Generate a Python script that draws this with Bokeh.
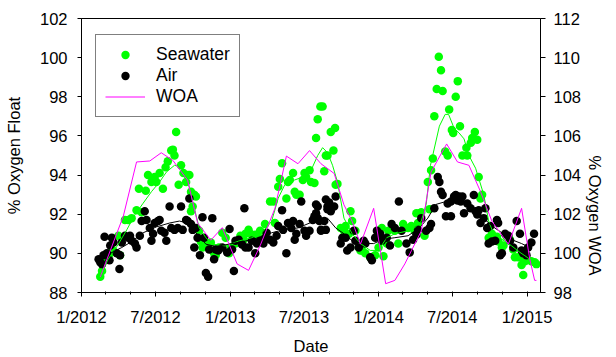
import math
from datetime import datetime
from bokeh.plotting import figure
from bokeh.models import (Range1d, LinearAxis, DatetimeAxis, FixedTicker, ColumnDataSource, Legend,
                          Arrow)
from bokeh.embed import file_html
from bokeh.resources import INLINE

FONT = "Liberation Sans"

# ---------------- data (decimal year, percent) ----------------
sw_year = [2012.126, 2012.138, 2012.171, 2012.193, 2012.213, 2012.248, 2012.259, 2012.292, 2012.314, 2012.337,
           2012.370, 2012.386, 2012.404, 2012.432, 2012.447, 2012.470, 2012.492, 2012.503, 2012.525, 2012.547,
           2012.565, 2012.580, 2012.603, 2012.614, 2012.625, 2012.636, 2012.653, 2012.669, 2012.685, 2012.703,
           2012.713, 2012.725, 2012.736, 2012.747, 2012.758, 2012.769, 2012.736, 2012.791, 2012.802, 2012.813,
           2012.846, 2012.869, 2012.891, 2012.902, 2012.924, 2012.946, 2012.969, 2012.991, 2013.002, 2013.035,
           2013.068, 2013.090, 2013.102, 2013.123, 2013.135, 2013.168, 2013.190, 2013.201, 2013.234, 2013.268,
           2013.290, 2013.301, 2013.323, 2013.334, 2013.349, 2013.378, 2013.389, 2013.401, 2013.423, 2013.434,
           2013.445, 2013.467, 2013.489, 2013.500, 2013.511, 2013.534, 2013.544, 2013.567, 2013.578, 2013.589,
           2013.607, 2013.622, 2013.633, 2013.644, 2013.655, 2013.677, 2013.695, 2013.706, 2013.710, 2013.722,
           2013.744, 2013.766, 2013.777, 2013.800, 2013.810, 2013.821, 2013.843, 2013.866, 2013.877, 2013.888,
           2013.910, 2013.943, 2013.976, 2013.999, 2014.021, 2014.032, 2014.054, 2014.065, 2014.109, 2014.132,
           2014.165, 2014.198, 2014.220, 2014.242, 2014.254, 2014.265, 2014.275, 2014.287, 2014.309, 2014.331,
           2014.342, 2014.353, 2014.365, 2014.375, 2014.391, 2014.405, 2014.420, 2014.431, 2014.448, 2014.465,
           2014.475, 2014.493, 2014.502, 2014.519, 2014.533, 2014.548, 2014.564, 2014.591, 2014.597, 2014.621,
           2014.630, 2014.648, 2014.664, 2014.674, 2014.686, 2014.697, 2014.741, 2014.763, 2014.797, 2014.807,
           2014.830, 2014.841, 2014.862, 2014.885, 2014.907, 2014.918, 2014.940, 2014.952, 2014.963, 2014.974,
           2014.985, 2015.029, 2015.051, 2015.063]
sw_pct = [88.8, 89.1, 89.7, 90.0, 90.15, 90.9, 89.9, 91.7, 91.7, 91.8,
          92.2, 93.3, 92.1, 93.2, 94.0, 93.65, 93.9, 93.65, 94.1, 93.3,
          94.4, 94.7, 95.25, 95.3, 95.0, 96.2, 93.5, 94.5, 94.1, 93.65,
          94.0, 94.0, 93.15, 92.4, 93.0, 92.9, 92.15, 91.15, 90.6, 90.3,
          90.5, 90.55, 90.0, 89.9, 90.3, 91.05, 90.8, 90.0, 90.3, 90.5,
          90.9, 90.7, 91.0, 91.2, 91.0, 90.95, 90.8, 91.15, 91.5, 92.65,
          92.65, 91.55, 93.4, 93.8, 94.6, 92.8, 93.65, 93.75, 94.1, 93.15,
          93.0, 93.0, 93.75, 94.1, 93.9, 94.25, 93.65, 93.6, 95.9, 96.85,
          97.5, 97.5, 94.2, 95.0, 95.0, 96.2, 95.25, 96.4, 93.5, 93.55,
          91.3, 91.15, 91.4, 91.0, 92.15, 91.65, 91.15, 90.3, 90.15, 90.15,
          90.0, 89.8, 89.9, 90.3, 91.3, 89.85, 90.5, 91.15, 91.15, 90.5,
          91.5, 91.3, 91.4, 91.15, 92.05, 91.55, 92.05, 92.1, 90.9, 93.65,
          92.25, 94.25, 94.85, 97.0, 98.4, 100.05, 99.35, 98.3, 95.2, 95.0,
          97.35, 96.3, 96.15, 98.0, 98.8, 96.5, 95.0, 95.4, 95.0, 95.65,
          95.9, 96.2, 95.8, 93.9, 92.8, 93.0, 90.8, 91.0, 90.85, 90.6,
          90.3, 90.4, 90.85, 90.7, 90.2, 89.8, 89.8, 89.8, 89.4, 88.9,
          89.6, 89.6, 89.55, 89.45]

air_year = [2012.115, 2012.126, 2012.138, 2012.148, 2012.155, 2012.171, 2012.188, 2012.193, 2012.204, 2012.215,
            2012.237, 2012.255, 2012.259, 2012.271, 2012.292, 2012.314, 2012.326, 2012.337, 2012.359, 2012.370,
            2012.392, 2012.404, 2012.425, 2012.437, 2012.459, 2012.470, 2012.481, 2012.492, 2012.514, 2012.525,
            2012.536, 2012.558, 2012.570, 2012.592, 2012.603, 2012.625, 2012.647, 2012.669, 2012.680, 2012.703,
            2012.713, 2012.725, 2012.736, 2012.747, 2012.758, 2012.769, 2012.780, 2012.796, 2012.813, 2012.824,
            2012.836, 2012.851, 2012.858, 2012.879, 2012.891, 2012.902, 2012.919, 2012.946, 2012.979, 2012.995,
            2013.012, 2013.024, 2013.035, 2013.057, 2013.079, 2013.095, 2013.102, 2013.123, 2013.145, 2013.168,
            2013.179, 2013.201, 2013.223, 2013.234, 2013.245, 2013.268, 2013.290, 2013.312, 2013.323, 2013.349,
            2013.356, 2013.378, 2013.389, 2013.411, 2013.423, 2013.434, 2013.445, 2013.467, 2013.478, 2013.500,
            2013.511, 2013.534, 2013.556, 2013.578, 2013.589, 2013.611, 2013.633, 2013.644, 2013.655, 2013.677,
            2013.700, 2013.567, 2013.578, 2013.589, 2013.600, 2013.644, 2013.666, 2013.655, 2013.710, 2013.611,
            2013.744, 2013.755, 2013.777, 2013.788, 2013.810, 2013.832, 2013.843, 2013.866, 2013.899, 2013.910,
            2013.943, 2013.954, 2013.976, 2013.988, 2014.010, 2014.021, 2014.054, 2014.076, 2014.087, 2014.109,
            2014.136, 2014.154, 2014.187, 2014.209, 2014.232, 2014.254, 2014.265, 2014.287, 2014.320, 2014.342,
            2014.353, 2014.375, 2014.398, 2014.409, 2014.420, 2014.431, 2014.453, 2014.465, 2014.487, 2014.487,
            2014.508, 2014.519, 2014.531, 2014.542, 2014.553, 2014.564, 2014.575, 2014.597, 2014.619, 2014.641,
            2014.653, 2014.664, 2014.674, 2014.686, 2014.708, 2014.719, 2014.731, 2014.752, 2014.741, 2014.763,
            2014.785, 2014.797, 2014.805, 2014.819, 2014.830, 2014.852, 2014.874, 2014.885, 2014.907, 2014.930,
            2014.952, 2014.963, 2014.974, 2014.996, 2015.007, 2015.029, 2015.047]
air_pct = [89.7, 89.55, 89.45, 89.9, 90.85, 90.0, 89.65, 90.4, 90.8, 90.55,
           90.0, 89.2, 89.9, 90.55, 90.9, 90.8, 90.9, 90.65, 90.5, 90.3,
           90.9, 91.65, 92.15, 91.7, 91.3, 90.65, 91.0, 91.55, 91.65, 91.7,
           91.15, 91.05, 90.65, 92.4, 91.3, 91.2, 91.3, 92.4, 91.2, 91.7,
           91.65, 92.8, 91.5, 91.2, 90.3, 91.3, 90.8, 89.9, 91.85, 90.8,
           89.0, 88.8, 90.2, 91.8, 89.7, 90.2, 90.15, 90.3, 90.05, 91.25,
           90.2, 89.1, 90.65, 90.7, 90.45, 92.3, 90.3, 90.3, 90.65, 90.0,
           90.5, 90.65, 90.5, 90.8, 91.05, 90.7, 90.55, 90.9, 91.4, 92.2,
           91.2, 90.0, 91.55, 91.3, 91.65, 90.7, 91.0, 91.5, 92.65, 91.15,
           90.9, 91.15, 91.7, 92.05, 92.4, 91.2, 91.65, 91.2, 92.4, 92.15,
           92.4, 91.9, 92.5, 91.8, 91.65, 92.75, 92.6, 92.25, 92.9, 91.15,
           90.5, 90.8, 90.8, 90.15, 90.3, 91.15, 90.65, 90.3, 90.65, 90.5,
           89.8, 89.65, 90.8, 91.15, 91.0, 90.65, 90.8, 90.4, 91.5, 91.3,
           92.65, 91.15, 90.5, 90.05, 90.7, 90.95, 91.2, 91.8, 91.15, 91.3,
           91.5, 92.3, 93.9, 93.65, 93.15, 92.98, 91.9, 92.55, 92.65, 91.9,
           92.9, 92.98, 92.7, 92.9, 92.65, 92.9, 92.05, 92.55, 92.3, 92.98,
           92.15, 91.98, 92.2, 91.55, 91.8, 92.3, 91.3, 91.4, 90.5, 90.6,
           90.65, 91.7, 91.55, 89.9, 90.0, 91.0, 90.9, 90.65, 90.3, 91.65,
           91.0, 90.15, 90.0, 89.9, 90.3, 90.55, 91.0]

sw_fit_year = [2012.126, 2012.179, 2012.246, 2012.304, 2012.359, 2012.414, 2012.470, 2012.525, 2012.570, 2012.625,
               2012.669, 2012.713, 2012.747, 2012.791, 2012.836, 2012.879, 2012.969, 2013.057, 2013.145, 2013.212,
               2013.278, 2013.323, 2013.367, 2013.434, 2013.489, 2013.544, 2013.589, 2013.622, 2013.655, 2013.689,
               2013.722, 2013.766, 2013.821, 2013.877, 2013.943, 2013.999, 2014.054, 2014.109, 2014.198, 2014.242,
               2014.287, 2014.320, 2014.349, 2014.409, 2014.448, 2014.471, 2014.508, 2014.542, 2014.575, 2014.608,
               2014.653, 2014.708, 2014.741, 2014.774, 2014.830, 2014.896, 2014.952, 2014.985, 2015.018]
sw_fit_pct = [88.8, 89.7, 90.45, 91.2, 91.97, 92.56, 93.15, 93.65, 94.15, 94.5,
              94.4, 93.75, 92.65, 91.3, 90.8, 90.47, 90.38, 90.63, 90.8, 91.05,
              91.63, 92.82, 93.5, 93.75, 93.9, 94.24, 95.0, 95.4, 95.15, 94.5,
              93.65, 91.8, 91.0, 90.5, 90.15, 90.15, 90.8, 91.0, 91.15, 91.3,
              91.65, 92.5, 94.5, 96.5, 97.1, 97.1, 96.4, 96.15, 95.85, 95.0,
              94.35, 93.0, 91.65, 91.0, 90.72, 90.38, 90.05, 89.88, 89.7]

air_fit_year = [2012.126, 2012.193, 2012.271, 2012.337, 2012.414, 2012.503, 2012.592, 2012.658, 2012.713, 2012.769,
                2012.836, 2012.902, 2012.991, 2013.102, 2013.190, 2013.278, 2013.367, 2013.456, 2013.567, 2013.655,
                2013.710, 2013.766, 2013.821, 2013.888, 2013.966, 2014.032, 2014.109, 2014.198, 2014.275, 2014.331,
                2014.386, 2014.453, 2014.531, 2014.586, 2014.653, 2014.708, 2014.763, 2014.830, 2014.896, 2014.963,
                2015.018]
air_fit_pct = [89.6, 90.0, 90.3, 90.6, 91.05, 91.35, 91.55, 91.65, 91.55, 91.05,
               90.47, 90.35, 90.47, 90.63, 90.8, 91.05, 91.22, 91.3, 91.65, 91.8,
               91.3, 91.0, 90.65, 90.5, 90.5, 90.72, 90.8, 90.9, 91.3, 91.8,
               92.5, 92.65, 92.75, 92.5, 92.15, 91.8, 91.4, 91.05, 90.7, 90.5,
               90.3]

woa_year = [2012.126, 2012.281, 2012.370, 2012.459, 2012.536, 2012.614, 2012.713, 2012.780, 2012.869, 2012.946,
            2013.046, 2013.123, 2013.201, 2013.301, 2013.378, 2013.456, 2013.534, 2013.611, 2013.700, 2013.766,
            2013.821, 2013.877, 2013.966, 2014.047, 2014.109, 2014.176, 2014.220, 2014.287, 2014.353, 2014.458,
            2014.531, 2014.608, 2014.686, 2014.763, 2014.874, 2014.963, 2015.018, 2015.051, 2015.063]
woa_pct = [98.79, 101.9, 104.67, 104.72, 105.14, 104.75, 103.74, 101.56, 100.67, 101.31,
           99.46, 99.13, 100.39, 102.3, 104.97, 104.58, 105.25, 104.58, 104.08, 102.48,
           101.64, 100.47, 102.3, 98.45, 98.62, 99.46, 100.13, 101.14, 104.16, 105.59,
           104.67, 104.5, 103.16, 101.64, 100.47, 102.3, 99.71, 98.62, 98.62]

tick_labels = ["1/2012", "7/2012", "1/2013", "7/2013", "1/2014", "7/2014", "1/2015"]
left_ticks = [88, 90, 92, 94, 96, 98, 100, 102]
right_ticks = [98, 100, 102, 104, 106, 108, 110, 112]

# ---------------- helpers ----------------
EPOCH = datetime(1970, 1, 1)

def dec_to_dt(y):
    yr = int(math.floor(y))
    s = datetime(yr, 1, 1)
    e = datetime(yr + 1, 1, 1)
    return s + (e - s) * (y - yr)

def ms(dt):
    return (dt - EPOCH).total_seconds() * 1000.0

def conv(years):
    return [dec_to_dt(y) for y in years]

major_dt = []
for lab in tick_labels:
    m, yv = lab.split("/")
    major_dt.append(datetime(int(yv), int(m), 1))
major_ms = [ms(d) for d in major_dt]
minor_ms = []
for yv in range(2012, 2016):
    for m in (1, 3, 5, 7, 9, 11):
        minor_ms.append(ms(datetime(yv, m, 1)))
overrides = {t: lab for t, lab in zip(major_ms, tick_labels)}

x_start = datetime(2012, 1, 1)
x_end = datetime(2015, 2, 3)
Y0, Y1 = 88, 102

p = figure(width=616, height=357, output_backend="svg", toolbar_location=None,
           x_axis_type=None, y_axis_location=None,
           x_range=Range1d(x_start, x_end), y_range=Range1d(Y0, Y1),
           min_border_left=81, min_border_right=70, min_border_top=18, min_border_bottom=61)
p.extra_y_ranges = {"woa": Range1d(98, 112)}
p.grid.visible = False
p.outline_line_color = "black"
p.outline_line_width = 1
p.background_fill_color = "white"
p.border_fill_color = "white"

TS = "16.5px"

def style(ax):
    ax.axis_line_color = "black"
    ax.axis_line_width = 1
    ax.major_tick_line_color = "black"
    ax.minor_tick_line_color = "black"
    ax.major_label_text_font = FONT
    ax.major_label_text_font_size = TS
    ax.major_label_text_color = "black"
    ax.axis_label_text_font = FONT
    ax.axis_label_text_font_size = TS
    ax.axis_label_text_font_style = "normal"
    ax.axis_label_text_color = "black"

# bottom axis
xb = DatetimeAxis(ticker=FixedTicker(ticks=major_ms, minor_ticks=minor_ms), axis_label="Date")
style(xb)
xb.major_label_overrides = overrides
xb.major_tick_in = 0
xb.major_tick_out = 4
xb.minor_tick_in = 1
xb.minor_tick_out = 2
xb.major_label_standoff = 11
xb.axis_label_standoff = 8
p.add_layout(xb, "below")

# left axis
yl = LinearAxis(ticker=FixedTicker(ticks=left_ticks, minor_ticks=[]), axis_label="% Oxygen Float")
style(yl)
yl.major_tick_in = 0
yl.major_tick_out = 4
yl.minor_tick_in = 0
yl.minor_tick_out = 0
yl.major_label_standoff = 10
yl.axis_label_standoff = 14
p.add_layout(yl, "left")

# right axis
yr = LinearAxis(y_range_name="woa", ticker=FixedTicker(ticks=right_ticks, minor_ticks=[]),
                axis_label="% Oxygen WOA")
style(yr)
yr.major_tick_in = 0
yr.major_tick_out = 5
yr.minor_tick_in = 0
yr.minor_tick_out = 0
yr.major_label_standoff = 8
yr.axis_label_standoff = 11
if "axis_label_orientation" in LinearAxis.properties():
    yr.axis_label_orientation = -math.pi / 2
p.add_layout(yr, "right")

# top-edge outward ticks at the major dates
tick_len = 4 * (Y1 - Y0) / 278.0
top_src = ColumnDataSource(dict(x=major_ms, y0=[Y1] * len(major_ms), y1=[Y1 + tick_len] * len(major_ms)))
p.add_layout(Arrow(start=None, end=None, x_start="x", y_start="y0", x_end="x", y_end="y1",
                   source=top_src, line_color="black", line_width=1))

# glyphs
sw = p.scatter(conv(sw_year), sw_pct, size=8.5, color="#00FF00", line_color=None)
ai = p.scatter(conv(air_year), air_pct, size=8.5, color="black", line_color=None)
p.line(conv(sw_fit_year), sw_fit_pct, line_color="#00FF00", line_width=1)
p.line(conv(air_fit_year), air_fit_pct, line_color="black", line_width=1)
wl = p.line(conv(woa_year), woa_pct, line_color="#FF00FF", line_width=1, y_range_name="woa")

legend = Legend(items=[("Seawater", [sw]), ("Air", [ai]), ("WOA", [wl])],
                location=(14, 175))
legend.label_text_font = FONT
legend.label_text_font_size = "17.5px"
legend.label_text_color = "black"
legend.glyph_width = 40
legend.glyph_height = 21
legend.label_height = 21
legend.label_standoff = 11
legend.padding = 9
legend.spacing = 0
legend.margin = 0
legend.border_line_color = "black"
legend.border_line_width = 1
legend.background_fill_color = "white"
legend.background_fill_alpha = 1
p.add_layout(legend, "center")

open("out.html", "w").write(file_html(p, INLINE))
